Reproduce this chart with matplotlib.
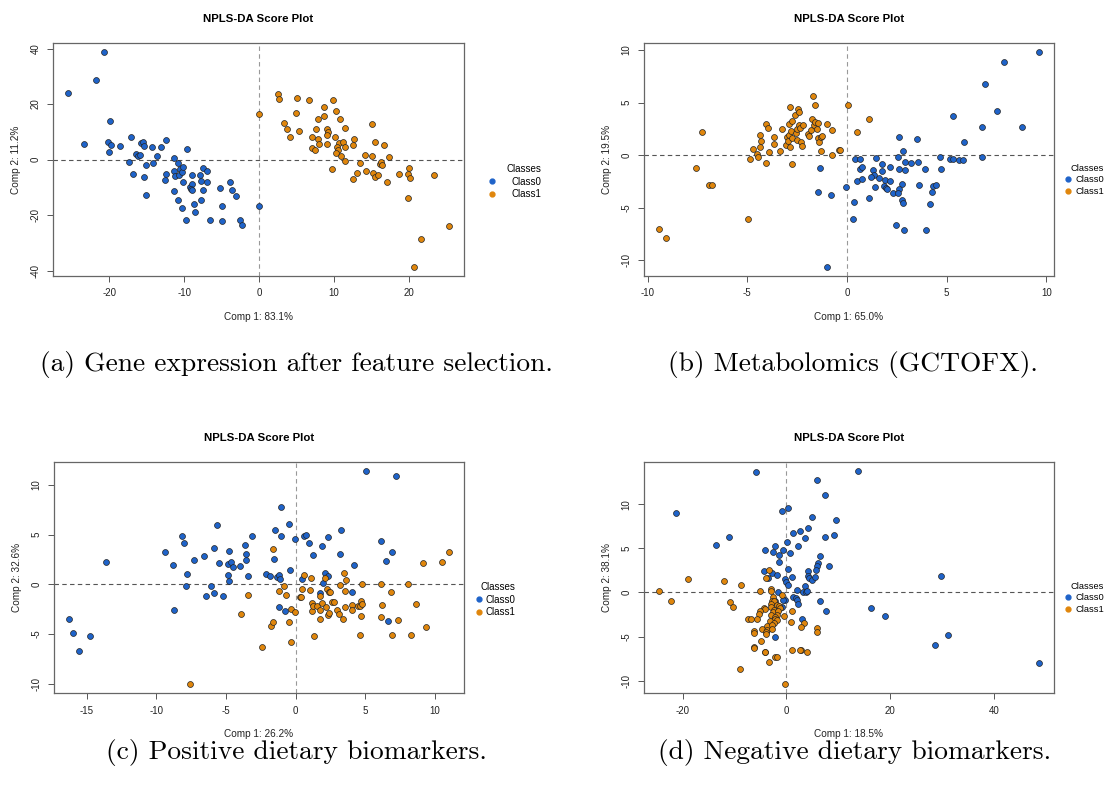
import numpy as np
import matplotlib
matplotlib.use('Agg')
import matplotlib.pyplot as plt
from matplotlib.lines import Line2D

plt.rcParams['font.family'] = ['Liberation Sans', 'DejaVu Sans']
plt.rcParams['axes.unicode_minus'] = False

blue = '#1f63c9'
orange = '#e0860c'

# (a) gene expression
a0x = [-25.45,-20.7,-21.7,-19.9,-23.4,-20.1,-19.8,-20.0,-18.6,-17.1,-17.3,-16.8,-16.4,-16.2,-15.9,-15.8,-15.5,-15.3,-15.4,-15.1,-15.1,-14.3,-14.1,-13.6,-13.1,-12.4,-12.4,-12.6,-11.4,-11.3,-11.2,-11.4,-10.8,-10.7,-10.8,-10.5,-10.3,-10.1,-10.1,-10.3,-9.6,-9.7,-9.2,-9.0,-9.0,-9.1,-8.9,-8.7,-8.5,-7.8,-7.9,-7.7,-7.5,-7.5,-7.0,-7.0,-6.5,-5.2,-4.9,-4.9,-3.9,-3.6,-3.1,-2.6,-2.3,0.0]
a0y = [24.0,38.9,28.6,13.8,5.6,6.5,5.3,2.9,5.0,8.2,-0.7,-5.1,2.1,1.2,1.5,5.9,6.5,4.8,-6.4,-1.9,-12.8,4.4,-1.3,1.3,4.7,7.1,-5.2,-7.3,0.7,-4.2,-5.9,-11.4,-1.2,-5.7,-14.6,-3.5,-4.4,-2.7,-8.0,-17.3,3.7,-21.6,-9.7,-5.7,-8.7,-10.4,-10.8,-15.8,-19.0,-14.5,-5.6,-7.6,-11.1,-3.1,-4.0,-8.2,-21.6,-10.3,-16.7,-22.2,-7.9,-11.1,-13.1,-21.8,-23.7,-16.6]
a1x = [0.0,2.5,2.7,5.0,4.9,6.7,9.8,8.6,10.3,3.3,3.7,4.1,5.3,7.8,8.7,10.8,7.6,9.0,9.2,9.0,7.1,7.8,8.0,9.1,7.1,7.5,10.1,10.7,11.2,11.4,10.4,10.5,10.2,11.4,10.9,11.5,12.6,12.5,9.7,13.5,14.1,13.1,12.5,14.3,15.1,15.4,15.1,16.7,17.3,16.1,16.2,16.4,15.2,15.5,15.8,17.1,18.6,19.8,20.0,20.1,19.8,23.3,25.3,21.6,20.6]
a1y = [16.6,23.7,21.8,22.2,16.7,21.5,21.5,19.0,17.4,13.1,11.1,8.0,10.3,14.5,15.8,14.7,11.1,11.0,9.9,8.7,8.2,7.6,5.6,5.7,4.1,3.4,8.1,5.9,6.2,11.4,4.7,3.5,2.5,4.4,1.3,-0.6,7.4,5.1,-3.5,-1.2,1.5,-4.7,-7.0,-4.2,12.9,6.4,1.3,5.1,0.8,-1.5,-1.0,-2.1,-4.8,-6.4,-5.7,-8.2,-5.1,-5.2,-2.9,-6.5,-13.7,-5.4,-24.0,-28.5,-38.8]

# (b) metabolomics
b0x = [-1.37,-1.45,-0.8,-0.98,9.62,7.87,6.93,7.52,5.33,6.77,8.8,5.88,2.62,3.52,2.83,0.42,0.67,1.47,2.57,4.68,5.15,5.33,5.63,5.83,6.78,1.77,2.17,2.93,3.23,3.57,0.67,0.75,2.6,2.93,3.92,4.73,1.32,1.78,1.37,1.22,1.6,0.52,0.75,1.92,2.18,2.77,1.42,1.88,1.95,2.0,2.32,2.62,2.57,3.6,4.32,4.47,4.28,-0.07,1.1,0.35,2.77,2.8,4.17,0.28,2.48,2.85,3.97]
b0y = [-1.18,-3.47,-3.82,-10.67,9.84,8.85,6.78,4.24,3.73,2.71,2.68,1.21,1.69,1.56,0.38,-0.41,-0.35,-0.25,-0.16,-0.22,-0.38,-0.35,-0.45,-0.48,-0.13,-0.86,-1.11,-0.64,-0.76,-0.64,-1.34,-1.15,-1.31,-1.43,-1.34,-1.34,-1.43,-1.53,-1.88,-2.10,-2.17,-2.45,-2.26,-2.36,-2.45,-2.77,-3.03,-2.90,-3.09,-3.25,-3.57,-3.18,-3.57,-2.87,-2.90,-2.80,-3.47,-2.99,-4.11,-4.43,-4.30,-4.52,-4.62,-6.05,-6.62,-7.13,-7.13]
b1x = [-9.42,-9.07,-7.25,-7.57,-6.9,-6.78,-4.97,-4.88,-4.7,-4.5,-4.45,-4.35,-4.3,-4.37,-4.07,-3.98,-4.07,-3.93,-3.65,-3.65,-3.28,-3.35,-3.08,-3.03,-2.97,-2.9,-2.87,-2.9,-2.85,-2.8,-2.75,-2.75,-2.75,-2.6,-2.58,-2.52,-2.5,-2.47,-2.4,-2.42,-2.35,-2.32,-2.28,-2.2,-1.95,-1.93,-1.8,-1.7,-1.63,-1.78,-1.65,-1.6,-1.47,-1.53,-1.45,-1.38,-1.32,-1.23,-1.3,-0.98,-0.75,-0.75,-0.4,0.05,1.08,0.5,-0.33]
b1y = [-7.04,-7.9,2.17,-1.27,-2.83,-2.83,-6.11,-0.38,0.57,0.13,-0.22,1.91,1.37,0.73,2.99,2.61,-0.76,0.32,1.69,1.02,2.52,0.35,0.96,1.69,1.37,1.88,4.62,2.99,0.8,2.26,3.25,1.62,-0.83,3.82,2.1,2.52,1.46,4.39,4.14,2.87,2.58,1.24,0.86,2.87,1.97,1.78,2.42,5.64,4.75,3.44,2.87,3.15,3.03,2.48,1.66,1.24,1.69,1.78,0.35,2.99,2.39,-0.03,0.51,4.75,3.47,2.2,0.51]

# (c) positive dietary biomarkers
c0x = [-16.25,-15.99,-15.56,-14.73,-13.63,-9.4,-8.81,-8.76,-8.19,-8.0,-7.78,-7.88,-7.3,-6.56,-6.47,-6.09,-5.87,-5.63,-5.87,-5.51,-5.2,-4.82,-4.84,-4.84,-4.77,-4.63,-4.53,-3.99,-3.63,-3.56,-3.56,-3.44,-3.13,-2.15,-1.86,-1.5,-1.55,-1.36,-1.22,-1.19,-1.12,-1.03,-1.05,-0.79,-0.45,-0.41,-0.02,5.05,7.22,3.23,0.6,0.72,0.98,1.27,1.91,2.3,3.16,4.21,6.1,6.44,6.91,0.43,2.08,2.32,1.99,1.72,4.0,6.65]
c0y = [-3.5,-4.87,-6.73,-5.17,2.23,3.2,1.93,-2.6,4.9,4.17,1.07,-0.17,2.43,2.8,-1.17,-0.13,3.6,5.93,-0.9,2.13,-1.2,3.37,2.0,0.9,0.3,2.27,1.73,1.83,3.9,3.03,2.47,0.83,4.83,1.03,0.8,5.47,2.5,0.73,-2.27,0.9,0.53,7.77,4.83,-2.7,6.07,1.43,4.57,11.43,10.9,5.43,4.83,5.0,4.13,2.97,3.87,4.77,3.07,1.9,4.3,2.3,3.27,0.57,1.1,0.83,0.1,-0.83,-0.8,-3.73]
c1x = [-7.59,-3.96,-3.44,-2.41,-1.79,-1.6,-1.6,-1.19,-0.81,-0.69,-0.48,-0.36,-0.36,-0.07,0.29,0.45,0.36,0.57,1.07,1.05,1.29,1.2,1.17,1.27,1.53,1.72,1.75,1.77,1.89,2.13,2.25,2.39,2.49,2.2,2.3,2.39,2.63,2.73,2.99,3.11,3.18,3.4,3.43,3.64,3.54,3.54,4.0,4.07,4.44,4.59,4.69,4.78,4.62,4.71,4.78,6.1,6.22,6.15,6.85,6.9,7.3,8.06,8.25,8.64,9.11,9.33,10.48,10.98]
c1y = [-10.07,-2.97,-1.03,-6.3,-4.23,-3.83,3.53,-0.7,-0.13,-1.07,-3.83,-2.5,-5.8,-2.77,-1.23,-0.43,-1.23,0.9,0.63,-0.57,-5.23,-1.9,-2.73,-2.23,-2.23,-2.57,-3.53,-1.13,-1.9,0.6,-0.43,-0.8,-0.77,-2.3,-3.07,-2.9,-1.83,-1.83,-2.6,-3.0,-0.03,-3.5,1.17,0.4,-0.7,-2.27,-2.1,-2.6,-2.17,-2.23,-1.7,-2.0,-5.1,-3.23,0.03,0.03,-2.07,-3.33,-0.8,-5.1,-3.63,0.07,-5.1,-1.97,2.1,-4.33,2.23,3.27]

# (d) negative dietary biomarkers
d0x = [-5.85,5.92,7.4,-0.84,0.26,4.89,9.52,1.35,2.7,4.18,3.6,7.46,9.07,0.13,2.25,-2.19,-4.12,-2.51,-0.71,-1.48,0.77,6.43,6.11,5.85,-1.48,8.17,5.66,4.24,-4.31,-2.76,-1.74,0.32,1.09,4.12,4.37,-3.47,4.89,5.47,-0.32,0.0,0.39,3.6,1.99,3.28,3.73,4.05,-1.67,1.35,1.86,2.12,2.32,6.56,7.65,-0.32,-0.64,-0.77,-2.19,2.96,-2.19,-21.35,-13.5,-11.06,13.72,29.7,16.3,19.0,31.2,28.7,48.6]
d0y = [13.65,12.78,10.98,9.25,9.59,8.53,8.23,6.77,6.99,7.33,6.17,6.32,6.54,5.71,5.26,5.23,4.77,4.55,4.81,4.25,4.44,4.14,3.38,2.97,3.42,3.0,2.59,2.44,2.41,2.26,1.99,2.67,1.8,1.88,1.65,1.62,1.39,1.73,1.5,1.2,0.9,0.75,0.26,0.04,0.04,0.15,0.11,-0.56,-0.64,-0.86,-1.32,-0.94,-2.07,-0.86,-0.86,-1.62,-1.02,-2.97,-5.0,8.95,5.38,6.28,13.8,1.92,-1.8,-2.7,-4.77,-5.98,-7.97]
d1x = [-8.68,-5.08,-3.28,-3.86,-3.02,-2.89,-2.64,-0.9,-2.77,-2.32,-3.02,-1.8,-2.89,-1.41,-1.29,-2.44,-4.37,-4.12,-2.57,-1.61,-5.14,-5.34,-3.02,-1.86,-2.12,-0.51,-2.25,-7.33,-6.82,-5.72,-1.8,-3.22,-2.44,1.03,0.84,3.47,-3.73,-2.83,-4.69,-3.73,-2.7,-6.24,-6.24,-3.99,-3.92,2.77,5.85,5.85,-4.89,-6.24,-4.12,-2.19,-1.8,-3.41,1.16,2.83,4.05,-8.87,-24.5,-22.2,-18.97,-12.03,-10.8,-10.2,-6.3,-4.05,-0.19,2.69]
d1y = [0.9,0.19,2.52,1.65,0.41,0.19,-0.56,-0.3,-0.98,-0.94,-1.32,-1.47,-1.65,-1.54,-1.8,-1.99,-1.73,-1.84,-2.18,-2.11,-2.07,-2.44,-2.56,-2.56,-2.82,-2.63,-3.01,-3.01,-3.04,-3.04,-3.12,-3.23,-3.42,-2.07,-3.31,-3.42,-3.76,-3.72,-4.1,-4.21,-4.14,-4.36,-4.62,-4.44,-4.74,-3.95,-3.98,-4.51,-5.49,-6.2,-6.77,-7.29,-7.29,-7.86,-6.5,-6.54,-6.77,-8.68,0.19,-0.94,1.54,1.35,-1.13,-1.62,-6.24,-6.73,-10.41,-6.5]

panels = [
    dict(c0=(a0x, a0y), c1=(a1x, a1y), xlab='Comp 1: 83.1%', ylab='Comp 2: 11.2%',
         xt=[-20, -10, 0, 10, 20], yt=[-40, -20, 0, 20, 40], box=(53, 43, 464, 276),
         leg=(1.056, 0.48), legpad=1.5, legfs=7,
         cap='(a) Gene expression after feature selection.', capxy=(296, 364)),
    dict(c0=(b0x, b0y), c1=(b1x, b1y), xlab='Comp 1: 65.0%', ylab='Comp 2: 19.5%',
         xt=[-10, -5, 0, 5, 10], yt=[-10, -5, 0, 5, 10], box=(644, 43, 1054, 276),
         leg=(1.024, 0.48), legpad=0.25, legfs=6.7,
         cap='(b) Metabolomics (GCTOFX).', capxy=(853, 364)),
    dict(c0=(c0x, c0y), c1=(c1x, c1y), xlab='Comp 1: 26.2%', ylab='Comp 2: 32.6%',
         xt=[-15, -10, -5, 0, 5, 10], yt=[-10, -5, 0, 5, 10], box=(54, 462, 464, 693),
         leg=(1.024, 0.48), legpad=0.25, legfs=7,
         cap='(c) Positive dietary biomarkers.', capxy=(296, 753)),
    dict(c0=(d0x, d0y), c1=(d1x, d1y), xlab='Comp 1: 18.5%', ylab='Comp 2: 38.1%',
         xt=[-20, 0, 20, 40], yt=[-10, -5, 0, 5, 10], box=(644, 462, 1054, 693),
         leg=(1.024, 0.48), legpad=0.25, legfs=6.7,
         cap='(d) Negative dietary biomarkers.', capxy=(855, 753)),
]

W, H = 1105, 797
fig = plt.figure(figsize=(W / 100, H / 100), dpi=100)

for p in panels:
    l, t, r, b = p['box']
    ax = fig.add_axes([l / W, 1 - b / H, (r - l) / W, (b - t) / H])
    allx = np.concatenate([p['c0'][0], p['c1'][0]])
    ally = np.concatenate([p['c0'][1], p['c1'][1]])
    dx = 0.04 * (allx.max() - allx.min())
    dy = 0.04 * (ally.max() - ally.min())
    ax.set_xlim(allx.min() - dx, allx.max() + dx)
    ax.set_ylim(ally.min() - dy, ally.max() + dy)

    ax.axhline(0, color='#555555', lw=0.8, ls=(0, (4, 3)), zorder=1)
    ax.axvline(0, color='#999999', lw=0.8, ls=(0, (4, 3)), zorder=1)
    ax.scatter(*p['c0'], s=18, c=blue, edgecolors='#222222', linewidths=0.5, zorder=3)
    ax.scatter(*p['c1'], s=18, c=orange, edgecolors='#222222', linewidths=0.5, zorder=3)

    ax.set_xticks(p['xt'])
    ax.set_yticks(p['yt'])
    ax.tick_params(direction='out', length=4, width=0.7, colors='#555555',
                   labelcolor='#222222', labelsize=7, pad=5)
    plt.setp(ax.get_yticklabels(), rotation=90, va='center')
    for sp in ax.spines.values():
        sp.set_color('#666666')
        sp.set_linewidth(0.9)

    ax.set_title('NPLS-DA Score Plot', fontsize=8.2, fontweight='bold', pad=15)
    ax.set_xlabel(p['xlab'], fontsize=7.2, labelpad=10, color='#222222')
    ax.set_ylabel(p['ylab'], fontsize=7.2, labelpad=7, color='#222222')

    handles = [Line2D([], [], marker='o', ls='', color=blue, markersize=3.5),
               Line2D([], [], marker='o', ls='', color=orange, markersize=3.5)]
    ax.legend(handles, ['Class0', 'Class1'], title='Classes', loc='upper left',
              bbox_to_anchor=p['leg'], frameon=False, fontsize=p['legfs'],
              title_fontsize=p['legfs'], handlelength=1.0, handletextpad=p['legpad'],
              borderaxespad=0, borderpad=0, labelspacing=0.25, alignment='right')

    fig.text(p['capxy'][0] / W, 1 - p['capxy'][1] / H, p['cap'], ha='center', va='center',
             fontsize=19.8, family=['cmr10', 'DejaVu Serif'])

fig.savefig('out.png', dpi=100)
